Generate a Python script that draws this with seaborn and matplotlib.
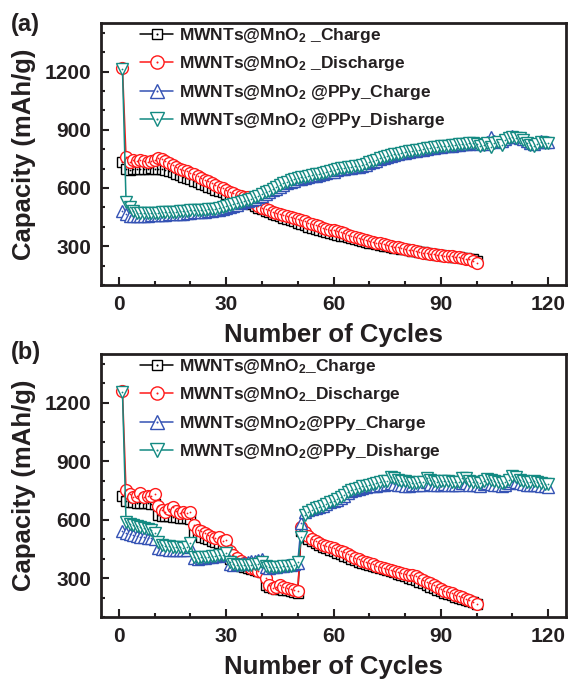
import matplotlib
matplotlib.use("Agg")
import matplotlib.pyplot as plt
from matplotlib.ticker import MultipleLocator
from matplotlib.legend_handler import HandlerTuple
from matplotlib.lines import Line2D
import seaborn as sns
import numpy as np
import pandas as pd

# ---------------- data ----------------
cycles_100 = list(range(1, 101))
cycles_120 = list(range(1, 121))

a_mno2_charge = [
    735, 700, 695, 700, 698, 700, 697, 700, 702, 700,
    700, 698, 692, 688, 680, 672, 665, 658, 650, 645,
    638, 630, 622, 614, 607, 600, 592, 585, 578, 570,
    562, 555, 548, 540, 532, 525, 515, 505, 498, 490,
    482, 475, 468, 460, 453, 447, 440, 434, 428, 420,
    413, 407, 400, 394, 388, 382, 377, 372, 368, 364,
    360, 355, 350, 346, 341, 337, 332, 327, 322, 318,
    314, 310, 306, 302, 299, 296, 292, 289, 286, 283,
    280, 277, 274, 271, 268, 265, 262, 259, 256, 253,
    250, 248, 246, 244, 242, 240, 238, 236, 232, 225]
a_mno2_discharge = [
    1220, 760, 735, 745, 740, 742, 738, 735, 740, 745,
    752, 748, 740, 730, 720, 710, 700, 692, 685, 678,
    670, 660, 650, 642, 635, 625, 615, 607, 598, 590,
    580, 572, 566, 560, 555, 552, 548, 525, 508, 498,
    490, 484, 478, 472, 466, 462, 458, 452, 446, 440,
    434, 428, 422, 416, 410, 402, 396, 390, 385, 382,
    378, 372, 366, 360, 354, 348, 342, 336, 330, 326,
    322, 318, 314, 310, 306, 302, 298, 294, 290, 286,
    282, 278, 274, 270, 267, 264, 261, 258, 256, 254,
    252, 250, 248, 246, 244, 240, 236, 232, 226, 215]
a_ppy_charge = [
    480, 465, 458, 455, 455, 456, 457, 458, 459, 460,
    461, 462, 463, 464, 465, 466, 467, 468, 470, 472,
    474, 476, 477, 478, 480, 482, 484, 487, 492, 497,
    502, 508, 514, 520, 526, 532, 538, 545, 552, 560,
    568, 577, 587, 597, 607, 616, 624, 632, 638, 644,
    648, 652, 656, 660, 664, 668, 672, 676, 680, 684,
    690, 696, 700, 703, 705, 707, 710, 714, 720, 727,
    734, 741, 748, 754, 760, 765, 770, 774, 778, 782,
    786, 789, 792, 795, 798, 801, 804, 807, 810, 812,
    814, 816, 818, 820, 822, 824, 826, 828, 830, 832,
    825, 828, 835, 862, 840, 838, 840, 850, 862, 868,
    865, 860, 852, 842, 832, 828, 835, 840, 838, 835]
a_ppy_discharge = [
    1215, 530, 500, 480, 472, 470, 470, 470, 471, 472,
    473, 474, 475, 476, 477, 478, 479, 480, 482, 484,
    486, 487, 488, 489, 490, 492, 494, 497, 501, 506,
    511, 516, 521, 527, 533, 539, 545, 552, 560, 568,
    577, 586, 596, 606, 616, 625, 633, 640, 645, 650,
    654, 658, 662, 666, 670, 674, 678, 682, 686, 690,
    696, 701, 705, 708, 710, 712, 715, 719, 725, 732,
    739, 746, 752, 758, 764, 769, 773, 777, 781, 785,
    789, 792, 795, 798, 801, 804, 807, 810, 812, 814,
    816, 818, 820, 822, 824, 826, 828, 830, 832, 826,
    815, 820, 830, 812, 832, 838, 822, 845, 858, 862,
    860, 855, 845, 830, 822, 818, 828, 835, 833, 830]

b_mno2_charge = [
    720, 695, 690, 688, 686, 685, 684, 683, 682, 680,
    625, 620, 618, 616, 614, 612, 610, 608, 607, 605,
    530, 520, 512, 505, 498, 492, 486, 480, 476, 470,
    400, 385, 372, 362, 355, 350, 345, 340, 336, 332,
    262, 252, 248, 245, 243, 240, 237, 234, 230, 225,
    540, 510, 498, 488, 478, 468, 460, 452, 444, 437,
    430, 422, 414, 406, 398, 391, 384, 378, 372, 366,
    360, 355, 350, 345, 340, 335, 330, 322, 315, 308,
    302, 296, 289, 280, 272, 264, 256, 248, 240, 232,
    225, 218, 211, 205, 199, 193, 187, 181, 175, 168]
b_mno2_discharge = [
    1260, 750, 730, 715, 720, 738, 718, 720, 722, 730,
    670, 650, 640, 655, 665, 642, 632, 640, 636, 640,
    572, 548, 540, 532, 522, 512, 503, 510, 490, 495,
    440, 420, 402, 388, 375, 364, 354, 345, 337, 330,
    300, 262, 250, 256, 262, 255, 248, 243, 238, 232,
    560, 535, 515, 500, 490, 480, 472, 465, 458, 452,
    446, 440, 432, 422, 412, 404, 396, 390, 383, 376,
    370, 364, 358, 352, 346, 340, 335, 330, 324, 320,
    318, 315, 310, 302, 290, 280, 272, 262, 252, 244,
    236, 228, 221, 214, 208, 201, 194, 186, 178, 165]
b_ppy_charge = [
    540, 530, 525, 520, 516, 513, 510, 507, 504, 500,
    455, 450, 447, 445, 444, 443, 442, 442, 443, 458,
    405, 400, 402, 405, 408, 410, 412, 414, 416, 425,
    370, 368, 370, 374, 378, 382, 385, 388, 392, 400,
    355, 352, 355, 358, 360, 362, 365, 368, 372, 378,
    580, 640, 648, 655, 660, 665, 672, 680, 688, 695,
    700, 710, 722, 735, 745, 752, 758, 762, 766, 770,
    772, 775, 778, 780, 784, 790, 785, 780, 778, 775,
    775, 776, 777, 778, 780, 792, 785, 780, 778, 780,
    782, 780, 778, 776, 778, 790, 786, 780, 778, 776,
    775, 782, 790, 785, 780, 776, 775, 780, 790, 798,
    795, 788, 782, 778, 776, 780, 778, 772, 770, 768]
b_ppy_discharge = [
    1255, 588, 575, 570, 565, 560, 556, 552, 548, 530,
    485, 470, 465, 462, 460, 458, 457, 456, 458, 478,
    410, 405, 406, 408, 410, 412, 414, 416, 418, 428,
    380, 372, 368, 366, 366, 367, 368, 370, 372, 382,
    362, 355, 355, 356, 358, 360, 362, 364, 366, 380,
    510, 625, 640, 650, 658, 665, 672, 680, 688, 696,
    704, 714, 726, 740, 750, 758, 764, 770, 775, 780,
    784, 788, 792, 796, 800, 818, 812, 805, 800, 796,
    792, 790, 790, 792, 795, 815, 805, 798, 795, 796,
    798, 796, 795, 792, 795, 815, 812, 800, 795, 792,
    790, 798, 808, 802, 796, 792, 790, 795, 805, 822,
    818, 805, 798, 795, 792, 800, 795, 788, 785, 782]

labels_a = [r"MWNTs@MnO$_2$ _Charge", r"MWNTs@MnO$_2$ _Discharge",
            r"MWNTs@MnO$_2$ @PPy_Charge", r"MWNTs@MnO$_2$ @PPy_Disharge"]
labels_b = [r"MWNTs@MnO$_2$_Charge", r"MWNTs@MnO$_2$_Discharge",
            r"MWNTs@MnO$_2$@PPy_Charge", r"MWNTs@MnO$_2$@PPy_Disharge"]
x_ticks = [0, 30, 60, 90, 120]
y_ticks = [300, 600, 900, 1200]
panel_tags = ["(a)", "(b)"]
x_title = "Number of Cycles"
y_title = "Capacity (mAh/g)"

# ---------------- style ----------------
sns.set_theme(style="ticks")
TXT = "#231f20"
plt.rcParams.update({
    "font.family": ["Liberation Sans", "DejaVu Sans"],
    "font.weight": "bold",
    "mathtext.fontset": "custom",
    "mathtext.rm": "Liberation Sans:bold",
    "mathtext.bf": "Liberation Sans:bold",
    "mathtext.it": "Liberation Sans:bold",
    "mathtext.default": "bf",
    "text.color": TXT,
    "axes.labelcolor": TXT,
    "xtick.color": TXT,
    "ytick.color": TXT,
    "axes.edgecolor": TXT,
})

styles = [
    dict(marker="s", color="#000000", ms=6.5),
    dict(marker="o", color="#ff1a1a", ms=8.5),
    dict(marker="^", color="#3452b4", ms=8.5),
    dict(marker="v", color="#138a82", ms=8.5),
]

W, H = 570, 680
fig = plt.figure(figsize=(W / 100, H / 100), dpi=100)
ax_a = fig.add_axes([101 / W, 1 - 285 / H, (566 - 101) / W, (285 - 23) / H])
ax_b = fig.add_axes([101 / W, 1 - 617 / H, (566 - 101) / W, (617 - 354) / H])

panels = [
    (ax_a, [(cycles_100, a_mno2_charge), (cycles_100, a_mno2_discharge),
            (cycles_120, a_ppy_charge), (cycles_120, a_ppy_discharge)], labels_a),
    (ax_b, [(cycles_100, b_mno2_charge), (cycles_100, b_mno2_discharge),
            (cycles_120, b_ppy_charge), (cycles_120, b_ppy_discharge)], labels_b),
]

for ax, series, labels in panels:
    handles = []
    for (xs, ys), st, lab in zip(series, styles, labels):
        df = pd.DataFrame({"cycle": xs, "cap": ys})
        sns.lineplot(data=df, x="cycle", y="cap", ax=ax, estimator=None,
                     sort=False, color=st["color"], linewidth=1.1,
                     marker=st["marker"], markersize=st["ms"],
                     markerfacecolor="white", markeredgecolor=st["color"],
                     markeredgewidth=1.0, legend=False)
        ax.plot(xs, ys, ls="none", marker="o", ms=1.3, color=st["color"],
                markeredgewidth=0)
        h1 = Line2D([], [], color=st["color"], lw=1.1, marker=st["marker"],
                    ms=st["ms"] + 1, mfc="white", mec=st["color"], mew=1.0)
        h2 = Line2D([], [], ls="none", marker="o", ms=1.5, color=st["color"],
                    mew=0)
        handles.append((h1, h2))
    ax.legend(handles, labels,
              handler_map={tuple: HandlerTuple(ndivide=1, pad=0)},
              loc="upper left", bbox_to_anchor=(0.083, 0.99), frameon=False,
              fontsize=12.5, handlelength=1.95, handletextpad=0.32,
              labelspacing=0.55, borderaxespad=0, borderpad=0)
    ax.set_xlim(-5, 125)
    ax.set_ylim(100, 1450)
    ax.set_xticks(x_ticks)
    ax.set_yticks(y_ticks)
    ax.xaxis.set_minor_locator(MultipleLocator(10))
    ax.yaxis.set_minor_locator(MultipleLocator(100))
    ax.tick_params(which="both", direction="in", top=False, right=False,
                   width=1.5, labelsize=15, pad=7)
    ax.tick_params(which="major", length=6)
    ax.tick_params(which="minor", length=3)
    for lbl in ax.get_xticklabels() + ax.get_yticklabels():
        lbl.set_fontweight("bold")
    for sp in ax.spines.values():
        sp.set_linewidth(2)
        sp.set_visible(True)
    ax.set_xlabel(x_title, fontsize=18.5, fontweight="bold", labelpad=7)
    ax.set_ylabel(y_title, fontsize=18.5, fontweight="bold", labelpad=6)
    ax.grid(False)

fig.text(11 / W, 1 - 13 / H, panel_tags[0], fontsize=17, fontweight="bold",
         va="top", ha="left")
fig.text(11 / W, 1 - 341 / H, panel_tags[1], fontsize=17, fontweight="bold",
         va="top", ha="left")

fig.savefig("out.png", dpi=100, facecolor="white")
